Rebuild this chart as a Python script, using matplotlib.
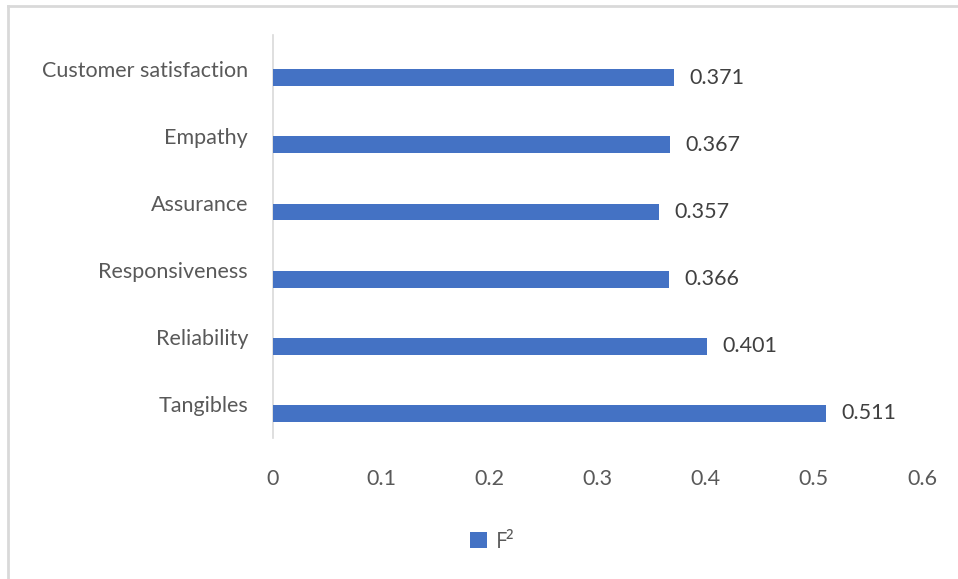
import matplotlib
matplotlib.use("Agg")
import matplotlib.pyplot as plt
from matplotlib.lines import Line2D
from matplotlib.patches import Patch

categories = ["Tangibles", "Reliability", "Responsiveness", "Assurance", "Empathy",
              "Customer satisfaction"]
f2_values = [0.511, 0.401, 0.366, 0.357, 0.367, 0.371]
x_ticks = [0, 0.1, 0.2, 0.3, 0.4, 0.5, 0.6]
x_tick_labels = ["0", "0.1", "0.2", "0.3", "0.4", "0.5", "0.6"]
series_name = "F²"

BAR_COLOR = "#4472C4"
TEXT_COLOR = "#595959"
FONT = ["Lato", "DejaVu Sans"]
FS = 15.5

plt.rcParams["font.family"] = FONT

W, H = 958, 579
fig = plt.figure(figsize=(W / 100, H / 100), dpi=100)
fig.patch.set_facecolor("white")

# chart frame: top and left edges
fig.add_artist(Line2D([8 / W, 8 / W], [0, 1 - 6 / H], transform=fig.transFigure,
                      color="#d9d9d9", lw=2))
fig.add_artist(Line2D([8 / W, 1], [1 - 6 / H, 1 - 6 / H], transform=fig.transFigure,
                      color="#d9d9d9", lw=2))

left, right, top, bottom = 273, 922, 35, 438
ax = fig.add_axes([left / W, 1 - bottom / H, (right - left) / W, (bottom - top) / H])

pos = list(range(len(categories)))
bar_pos = [p - 0.135 for p in pos]
ax.barh(bar_pos, f2_values, height=0.25, color=BAR_COLOR, zorder=3)

for y, v in zip(bar_pos, f2_values):
    ax.annotate(f"{v:.3f}", xy=(v, y), xytext=(11, 0), textcoords="offset points",
                ha="left", va="center", fontsize=FS, color="#404040")

ax.set_xlim(0, 0.6)
ax.set_ylim(-0.5, len(categories) - 0.5)
ax.set_yticks(pos)
ax.set_yticklabels(categories)
ax.set_xticks(x_ticks)
ax.set_xticklabels(x_tick_labels)
ax.tick_params(axis="both", length=0, labelsize=FS, labelcolor=TEXT_COLOR)
ax.tick_params(axis="y", pad=18)
ax.tick_params(axis="x", pad=22)

for side in ["top", "right", "bottom"]:
    ax.spines[side].set_visible(False)
ax.spines["left"].set_color("#d9d9d9")
ax.spines["left"].set_linewidth(1.2)

handles = [Patch(facecolor=BAR_COLOR, edgecolor="none")]
fig.legend(handles, [series_name], loc="center", bbox_to_anchor=(492 / W, 1 - 542 / H),
           frameon=False, handlelength=0.8, handleheight=0.8,
           handletextpad=0.4, labelcolor=TEXT_COLOR,
           prop={"family": ["Open Sans", "DejaVu Sans"], "size": FS})

fig.savefig("out.png", dpi=100, facecolor="white")
